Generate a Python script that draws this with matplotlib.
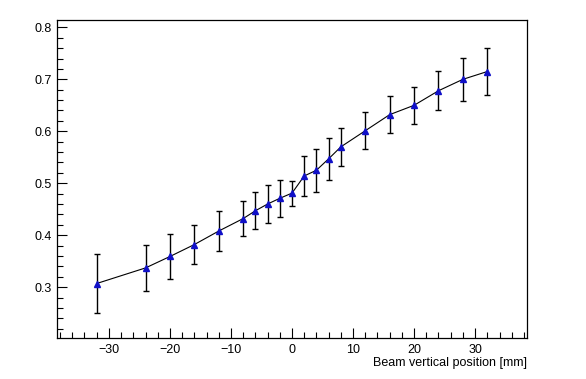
import matplotlib
matplotlib.use('Agg')
import matplotlib.pyplot as plt
from matplotlib.ticker import MultipleLocator

plt.rcParams['font.family'] = ['Liberation Sans', 'DejaVu Sans']

# Beam vertical position scan
position_mm = [-32, -24, -20, -16, -12, -8, -6, -4, -2, 0,
               2, 4, 6, 8, 12, 16, 20, 24, 28, 32]
response = [0.307, 0.337, 0.359, 0.382, 0.408, 0.432, 0.447, 0.460, 0.471, 0.481,
            0.514, 0.525, 0.547, 0.570, 0.601, 0.632, 0.650, 0.678, 0.700, 0.715]
response_err = [0.056, 0.044, 0.044, 0.038, 0.039, 0.034, 0.036, 0.036, 0.036, 0.024,
                0.038, 0.041, 0.040, 0.036, 0.036, 0.035, 0.036, 0.038, 0.041, 0.046]

fig = plt.figure(figsize=(5.86, 3.79), dpi=100)
ax = fig.add_axes([0.0973, 0.108, 0.802, 0.839])

ax.errorbar(position_mm, response, yerr=response_err, fmt='none',
            ecolor='black', elinewidth=1.0, capsize=2, capthick=1.0, zorder=2)
ax.plot(position_mm, response, '-', color='black', linewidth=0.8, zorder=3)
ax.plot(position_mm, response, '^', color='#1010c8', markersize=5,
        markeredgecolor='#1010c8', zorder=4)

ax.set_xlim(-38.5, 38.5)
ax.set_ylim(0.202, 0.814)

ax.xaxis.set_major_locator(MultipleLocator(10))
ax.xaxis.set_minor_locator(MultipleLocator(2))
ax.yaxis.set_major_locator(MultipleLocator(0.1))
ax.yaxis.set_minor_locator(MultipleLocator(0.02))

ax.tick_params(which='both', direction='in', top=False, right=False,
               labelsize=9, width=0.8, pad=4)
ax.tick_params(which='major', length=7)
ax.tick_params(which='minor', length=4)

for side in ax.spines.values():
    side.set_linewidth(0.9)

ax.set_xlabel("Beam vertical position [mm]", fontsize=9, loc='right', labelpad=1)

plt.savefig("out.png", dpi=100, facecolor='white')
plt.close()
